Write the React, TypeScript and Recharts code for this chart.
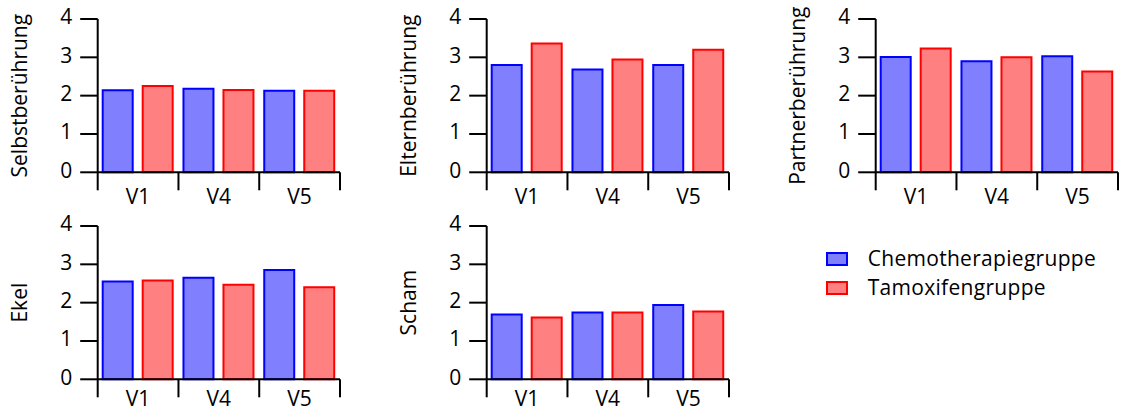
import React from 'react';
import { BarChart, Bar, XAxis, YAxis } from 'recharts';

const categories = ['V1', 'V4', 'V5'];
const yTicks = [0, 1, 2, 3, 4];
const seriesNames = ['Chemotherapiegruppe', 'Tamoxifengruppe'];
const seriesStroke = ['#0000ff', '#ff0000'];
const seriesFill = ['#8080ff', '#ff8080'];

const selbstChemo = [2.14, 2.18, 2.13];
const selbstTamox = [2.25, 2.15, 2.13];
const elternChemo = [2.8, 2.68, 2.8];
const elternTamox = [3.36, 2.94, 3.2];
const partnerChemo = [3.01, 2.9, 3.03];
const partnerTamox = [3.23, 3.0, 2.63];
const ekelChemo = [2.55, 2.65, 2.85];
const ekelTamox = [2.58, 2.47, 2.4];
const schamChemo = [1.69, 1.74, 1.94];
const schamTamox = [1.61, 1.74, 1.77];

const FONT = "'Open Sans', 'Noto Sans', sans-serif";
const FS = 21;

const build = (a: number[], b: number[]) =>
  categories.map((c, i) => ({ cat: c, chemo: a[i], tamox: b[i] }));

const makeXTick = (labelGap: number) => (props: any) => {
  const { x, y, payload, index } = props;
  const off = payload && payload.offset != null ? payload.offset : 40.4;
  const last = index === categories.length - 1;
  return (
    <g>
      <line x1={x - off} x2={x - off} y1={y} y2={y + 18} stroke="#000" strokeWidth={2} />
      {last && <line x1={x + off} x2={x + off} y1={y} y2={y + 18} stroke="#000" strokeWidth={2} />}
      <text x={x} y={y + labelGap} dy="0.71em" textAnchor="middle" fill="#000" fontSize={FS} fontFamily={FONT}>
        {payload.value}
      </text>
    </g>
  );
};

const Panel = ({
  left,
  top,
  title,
  a,
  b,
  labelGap,
}: {
  left: number;
  top: number;
  title: string;
  a: number[];
  b: number[];
  labelGap: number;
}) => {
  const Tick = makeXTick(labelGap);
  return (
    <div style={{ position: 'absolute', left, top }}>
      <BarChart
        width={346}
        height={210.3}
        data={build(a, b)}
        margin={{ top: 19, right: 6, left: 0, bottom: 0 }}
        barCategoryGap={5}
        barGap={10}
      >
        <XAxis
          dataKey="cat"
          height={38}
          tickLine={false}
          tickSize={0}
          tickMargin={0}
          axisLine={{ stroke: '#000', strokeWidth: 2 }}
          tick={<Tick />}
          interval={0}
        />
        <YAxis
          width={97.7}
          domain={[0, 4]}
          ticks={yTicks}
          interval={0}
          tickSize={17.5}
          tickMargin={8}
          axisLine={{ stroke: '#000', strokeWidth: 2 }}
          tickLine={{ stroke: '#000', strokeWidth: 2 }}
          tick={{ fill: '#000', fontSize: FS, fontFamily: FONT, dy: -2 }}
          label={{
            value: title,
            angle: -90,
            position: 'insideLeft',
            offset: 20,
            fill: '#000',
            style: { textAnchor: 'middle', fontSize: FS, fontFamily: FONT, fill: '#000' },
          }}
        />
        <Bar dataKey="chemo" name={seriesNames[0]} fill={seriesFill[0]} stroke={seriesStroke[0]} strokeWidth={2} isAnimationActive={false} />
        <Bar dataKey="tamox" name={seriesNames[1]} fill={seriesFill[1]} stroke={seriesStroke[1]} strokeWidth={2} isAnimationActive={false} />
      </BarChart>
    </div>
  );
};

export default function App() {
  return (
    <div style={{ position: 'absolute', left: 0, top: 0, width: 1123, height: 412, overflow: 'hidden', background: '#fff' }}>
      <Panel left={0} top={0} title="Selbstberührung" a={selbstChemo} b={selbstTamox} labelGap={16.5} />
      <Panel left={389} top={0} title="Elternberührung" a={elternChemo} b={elternTamox} labelGap={16.5} />
      <Panel left={778.3} top={0} title="Partnerberührung" a={partnerChemo} b={partnerTamox} labelGap={16.5} />
      <Panel left={0} top={206.7} title="Ekel" a={ekelChemo} b={ekelTamox} labelGap={12} />
      <Panel left={389} top={206.7} title="Scham" a={schamChemo} b={schamTamox} labelGap={12} />
      <div style={{ position: 'absolute', left: 825.7, top: 244, fontFamily: FONT, fontSize: FS, color: '#000' }}>
        {seriesNames.map((n, i) => (
          <div key={n} style={{ display: 'flex', alignItems: 'center', height: 29, whiteSpace: 'nowrap' }}>
            <div
              style={{
                width: 18,
                height: 10,
                background: seriesFill[i],
                border: `2px solid ${seriesStroke[i]}`,
                marginRight: 20,
              }}
            />
            <span style={{ lineHeight: '29px', letterSpacing: 0.3 }}>{n}</span>
          </div>
        ))}
      </div>
    </div>
  );
}
